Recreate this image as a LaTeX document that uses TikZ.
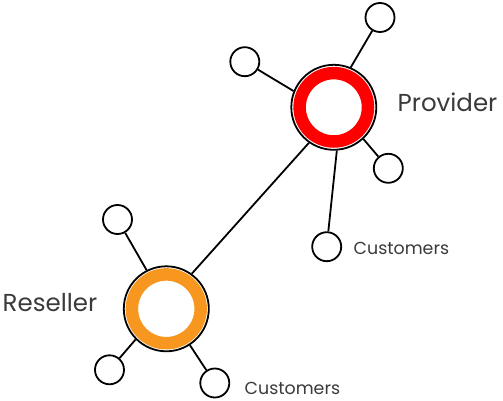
\documentclass[tikz,border=0pt]{standalone}
\usepackage{fontspec}
\setmainfont{Poppins}
\definecolor{provred}{HTML}{FF0000}
\definecolor{resorange}{HTML}{F7971F}
\definecolor{txtgray}{HTML}{3A3A3A}
\begin{document}
\begin{tikzpicture}[x=1pt,y=-1pt,
  hub/.style={circle,draw=black,line width=1.8pt,fill=white,minimum size=85pt,inner sep=0pt},
  leaf/.style={circle,draw=black,line width=1.8pt,fill=white,minimum size=29pt,inner sep=0pt},
  conn/.style={draw=black,line width=1.8pt},
  biglabel/.style={anchor=base west,inner sep=0pt,text=txtgray,font=\fontsize{24.5}{28}\selectfont},
  smalllabel/.style={anchor=base west,inner sep=0pt,text=txtgray,font=\fontsize{17.4}{20}\selectfont}]
\useasboundingbox (0,0) rectangle (503,401);
% nodes
\node[hub] (P) at (333.8,107.3) {};
\node[hub] (R) at (166.3,308.8) {};
\node[leaf] (p1) at (380,17.5) {};
\node[leaf] (p2) at (244.8,61.7) {};
\node[leaf] (p3) at (388.3,168.3) {};
\node[leaf] (p4) at (326.7,246.7) {};
\node[leaf] (r1) at (117.5,219.5) {};
\node[leaf] (r2) at (109.5,369.8) {};
\node[leaf] (r3) at (214.8,383) {};
% rings
\draw[provred,line width=12.5pt] (P.center) circle (34.2);
\draw[resorange,line width=12.5pt] (R.center) circle (34.4);
% connectors
\draw[conn] (P.67) -- (p1);
\draw[conn] (P.158) -- (p2);
\draw[conn] (P.-47) -- (p3);
\draw[conn] (P.-86) -- (p4);
\draw[conn] (P.-125) -- (R.54);
\draw[conn] (R.117) -- (r1);
\draw[conn] (R.-135) -- (r2);
\draw[conn] (R.-57) -- (r3);
% labels
\node[biglabel] (lp) at (397.5,111.7) {Provider};
\node[biglabel] (lr) at (2.5,311.7) {Reseller};
\node[smalllabel] (lc1) at (353.5,254.3) {Customers};
\node[smalllabel] (lc2) at (244.5,394.7) {Customers};
\end{tikzpicture}
\end{document}
